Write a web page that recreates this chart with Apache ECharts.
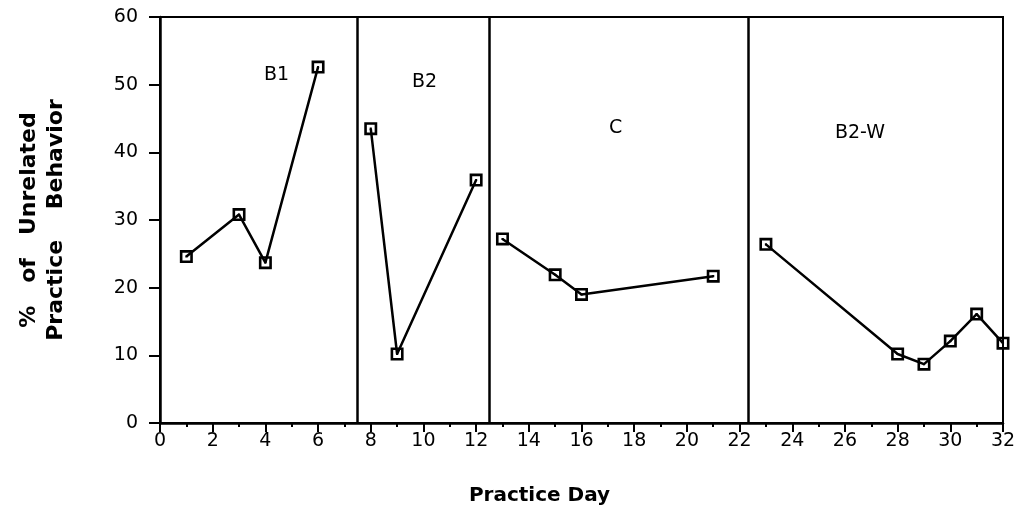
<!DOCTYPE html>
<html>
<head>
<meta charset="utf-8">
<script src="https://cdn.jsdelivr.net/npm/echarts@6/dist/echarts.min.js"></script>
<style>
  html, body { margin: 0; padding: 0; background: #fff; }
  #chart { width: 1022px; height: 507px; }
</style>
</head>
<body>
<div id="chart"></div>
<script>
// phase data: [practice day, % unrelated practice behavior]
const phaseB1 = [[1, 24.6], [3, 30.8], [4, 23.7], [6, 52.6]];
const phaseB2 = [[8, 43.5], [9, 10.2], [12, 35.9]];
const phaseC = [[13, 27.2], [15, 21.9], [16, 19.0], [21, 21.7]];
const phaseB2W = [[23, 26.4], [28, 10.2], [29, 8.7], [30, 12.1], [31, 16.1], [32, 11.8]];
const phaseLines = [7.5, 12.5, 22.33];
const phaseNames = ["B1", "B2", "C", "B2-W"];

const FONT = "DejaVu Sans, Liberation Sans, sans-serif";
// hollow square with a dot in the middle
const markSymbol = "path://M0,0H10V10H0Z M2,2V8H8V2Z M4.2,4.2H5.8V5.8H4.2Z";

let myChart = echarts.init(document.getElementById("chart"));

function phaseSeries(data) {
  return {
    type: "line",
    data: data,
    symbol: markSymbol,
    symbolSize: 13,
    showAllSymbol: true,
    itemStyle: { color: "#000" },
    lineStyle: { color: "#000", width: 2.5 },
    animation: false,
    z: 3,
  };
}

let series = [phaseB1, phaseB2, phaseC, phaseB2W].map(phaseSeries);
// vertical phase change lines
series[0].markLine = {
  silent: true,
  symbol: "none",
  label: { show: false },
  lineStyle: { color: "#000", width: 2.5, type: "solid" },
  data: phaseLines.map((v) => ({ xAxis: v })),
  animation: false,
};

let option = {
  backgroundColor: "#fff",
  grid: {
    left: 160,
    right: 19,
    top: 17,
    bottom: 84,
    outerBoundsMode: "none",
    containLabel: false,
    show: true,
    borderColor: "#000",
    borderWidth: 2,
  },
  xAxis: {
    type: "value",
    min: 0,
    max: 32,
    interval: 2,
    name: "Practice Day",
    nameLocation: "middle",
    nameGap: 63,
    nameTextStyle: { fontFamily: FONT, fontSize: 20, fontWeight: "bold", color: "#000", padding: [0, 84, 0, 0] },
    axisLine: { show: true, lineStyle: { color: "#000", width: 2.5 } },
    axisTick: { show: true, length: 9, lineStyle: { color: "#000", width: 2 } },
    minorTick: { show: true, splitNumber: 2, length: 4, lineStyle: { color: "#000", width: 2 } },
    splitLine: { show: false },
    axisLabel: { fontFamily: FONT, fontSize: 19, color: "#000", margin: 9 },
  },
  yAxis: {
    type: "value",
    min: 0,
    max: 60,
    interval: 10,
    name: "%   of   Unrelated\nPractice    Behavior",
    nameLocation: "middle",
    nameRotate: 90,
    nameGap: 90,
    nameTextStyle: { fontFamily: FONT, fontSize: 22, fontWeight: "bold", color: "#000", lineHeight: 27 },
    axisLine: { show: true, lineStyle: { color: "#000", width: 2.5 } },
    axisTick: { show: true, length: 11, lineStyle: { color: "#000", width: 2 } },
    splitLine: { show: false },
    axisLabel: { fontFamily: FONT, fontSize: 19, color: "#000", margin: 22 },
  },
  graphic: [
    { type: "text", left: 264, top: 66, style: { text: phaseNames[0], font: "19px " + FONT, fill: "#000" } },
    { type: "text", left: 412, top: 73, style: { text: phaseNames[1], font: "19px " + FONT, fill: "#000" } },
    { type: "text", left: 609, top: 119, style: { text: phaseNames[2], font: "19px " + FONT, fill: "#000" } },
    { type: "text", left: 835, top: 124, style: { text: phaseNames[3], font: "19px " + FONT, fill: "#000" } },
  ],
  series: series,
};

myChart.setOption(option);
</script>
</body>
</html>
